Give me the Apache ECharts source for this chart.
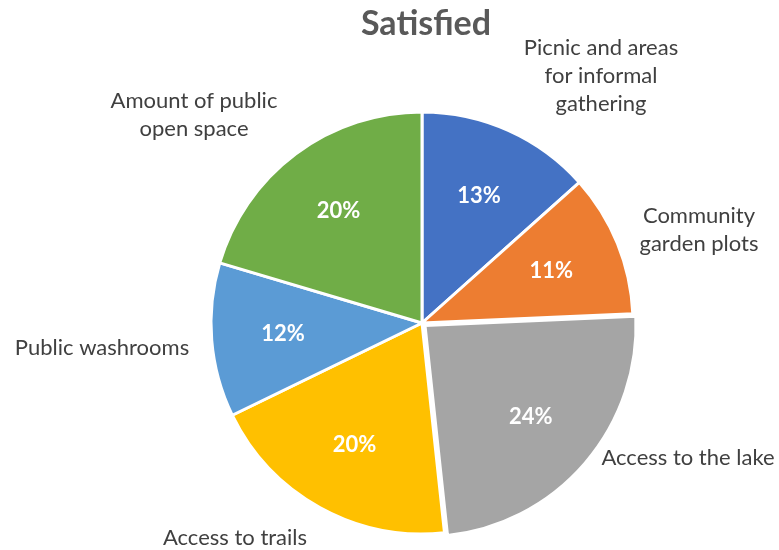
<!DOCTYPE html>
<html>
<head>
<meta charset="utf-8">
<script src="https://cdn.jsdelivr.net/npm/echarts@6/dist/echarts.min.js"></script>
<style>
  html, body { margin: 0; padding: 0; background: #fff; }
  #chart { width: 779px; height: 550px; }
</style>
</head>
<body>
<div id="chart"></div>
<script>
const categories = [
  'Picnic and areas\nfor informal\ngathering',
  'Community\ngarden plots',
  'Access to the lake',
  'Access to trails',
  'Public washrooms',
  'Amount of public\nopen space'
];
const values = [13.4, 10.9, 24.0, 19.5, 11.8, 20.4];
const colors = ['#4472C4', '#ED7D31', '#A5A5A5', '#FFC000', '#5B9BD5', '#70AD47'];
const explodedIndex = 2;

const chart = echarts.init(document.getElementById('chart'), null, { renderer: 'canvas' });

function buildOption() {
  const FONT = 'Lato, "Open Sans", sans-serif';
  const center = [422, 323];
  const R = 211;
  // label anchor points (centres of outer text blocks)
  const outerLabelPos = [
    [601, 76], [699, 230], [688, 458], [235, 538], [102, 348], [194, 115]
  ];
  const sectorData = categories.map((c, i) => ({
    name: c,
    value: values[i],
    selected: i === explodedIndex,
    itemStyle: { color: colors[i] }
  }));
  const innerLabelData = categories.map((c, i) => ({
    name: c,
    value: values[i],
    selected: i === explodedIndex
  }));
  const outerLabelData = categories.map((c, i) => ({ name: c, value: values[i] }));
  return {
    backgroundColor: '#ffffff',
    animation: false,
    title: {
      text: 'Satisfied',
      left: 421,
      textAlign: 'center',
      top: 2,
      textStyle: { fontFamily: FONT, fontWeight: 'bold', fontSize: 34, color: '#595959' }
    },
    series: [
      {
        type: 'pie',
        center: center,
        radius: [0, R],
        startAngle: 90,
        clockwise: true,
        selectedMode: 'single',
        selectedOffset: 4,
        silent: true,
        itemStyle: { borderColor: '#ffffff', borderWidth: 3 },
        label: { show: false },
        labelLine: { show: false },
        data: sectorData
      },
      {
        type: 'pie',
        center: center,
        radius: [62, R],
        startAngle: 90,
        clockwise: true,
        selectedMode: 'single',
        selectedOffset: 4,
        silent: true,
        itemStyle: { color: 'rgba(0,0,0,0)', borderWidth: 0 },
        label: {
          show: true,
          position: 'inside',
          formatter: function (p) { return Math.round(p.value) + '%'; },
          fontFamily: FONT,
          fontWeight: 'bold',
          fontSize: 22,
          color: '#ffffff'
        },
        labelLine: { show: false },
        data: innerLabelData
      },
      {
        type: 'pie',
        center: center,
        radius: [0, R],
        startAngle: 90,
        clockwise: true,
        silent: true,
        avoidLabelOverlap: false,
        itemStyle: { color: 'rgba(0,0,0,0)', borderWidth: 0 },
        label: {
          show: true,
          position: 'outside',
          formatter: '{b}',
          fontFamily: FONT,
          fontSize: 22,
          lineHeight: 28,
          color: '#404040',
          align: 'center'
        },
        labelLine: { show: false },
        labelLayout: function (p) {
          const pos = outerLabelPos[p.dataIndex];
          return { x: pos[0], y: pos[1], align: 'center', verticalAlign: 'middle' };
        },
        data: outerLabelData
      }
    ]
  };
}

chart.setOption(buildOption());
</script>
</body>
</html>
